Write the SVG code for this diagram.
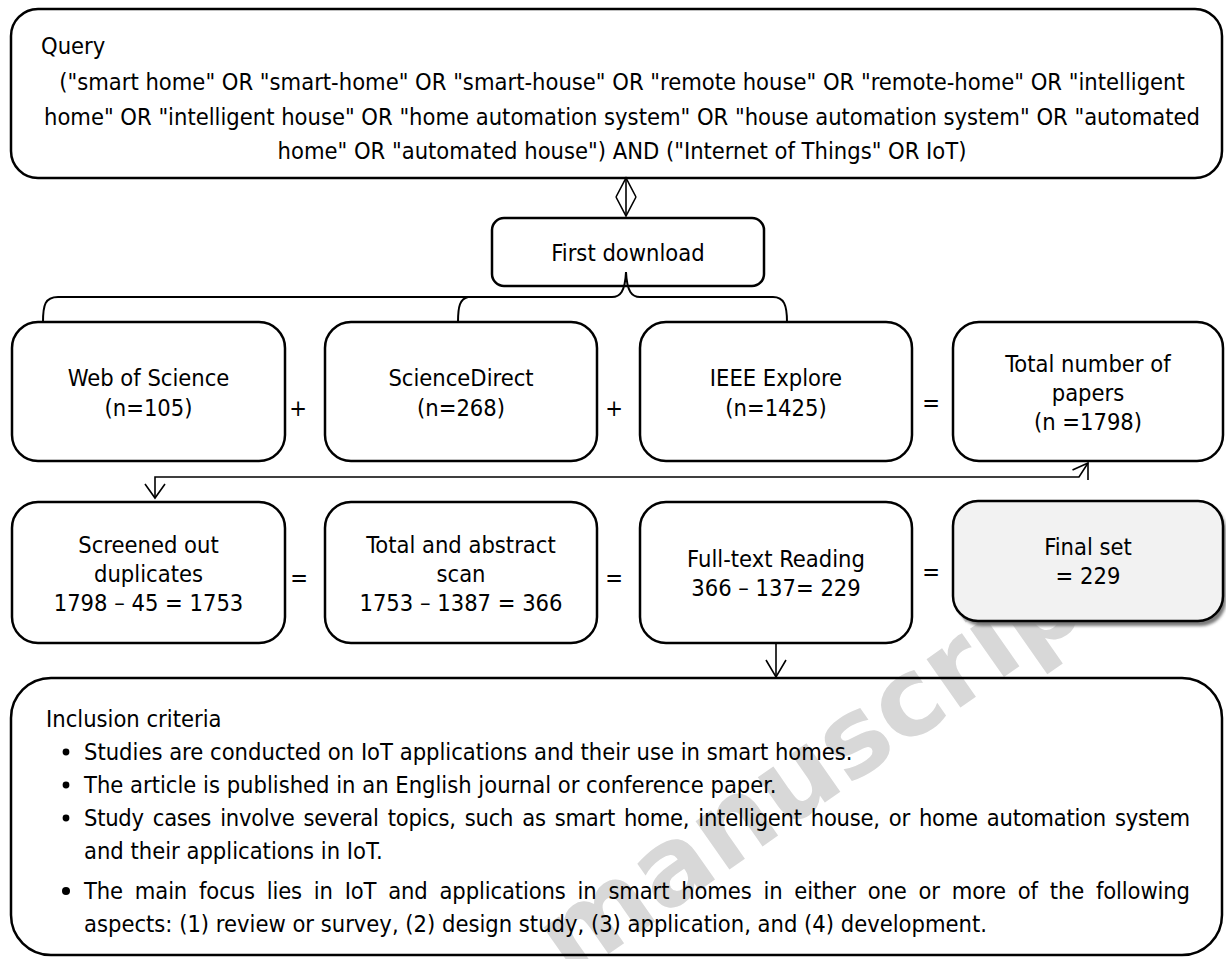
<svg xmlns="http://www.w3.org/2000/svg" width="1226" height="959" viewBox="0 0 1226 959">
  <defs>
    <style>
      .box { fill: #ffffff; stroke: #000000; stroke-width: 2.5; }
      .open { fill: none; stroke: #000000; stroke-width: 2.5; }
      .line { fill: none; stroke: #000000; stroke-width: 1.6; stroke-linejoin: miter; }
      .t { font-family: "DejaVu Sans Condensed", "DejaVu Sans", sans-serif; font-stretch: condensed; font-size: 23.5px; fill: #000000; }
      .c { text-anchor: middle; }
      .wm { font-family: "DejaVu Sans", sans-serif; font-weight: bold; font-size: 108px; fill: #d8d8d8; }
    </style>
    <filter id="shadow" x="-10%" y="-10%" width="130%" height="130%">
      <feGaussianBlur stdDeviation="1.5"/>
    </filter>
  </defs>

  <rect x="0" y="0" width="1226" height="959" fill="#ffffff"/>

  <!-- watermark, behind the boxes -->
  <g id="watermark">
    <text class="wm" transform="translate(570 981) rotate(-35)">manuscript</text>
  </g>

  <!-- inclusion criteria panel (transparent so the watermark shows through) -->
  <g id="inclusion">
    <rect class="open" x="11" y="678" width="1211" height="277" rx="40" ry="40"/>
    <text class="t" x="46" y="727">Inclusion criteria</text>
    <circle cx="66" cy="752" r="3.4"/>
    <text class="t" x="84" y="760">Studies are conducted on IoT applications and their use in smart homes.</text>
    <circle cx="66" cy="785" r="3.4"/>
    <text class="t" x="84" y="793">The article is published in an English journal or conference paper.</text>
    <circle cx="66" cy="818" r="3.4"/>
    <text class="t" x="84" y="826" textLength="1106" style="word-spacing:2.6px">Study cases involve several topics, such as smart home, intelligent house, or home automation system</text>
    <text class="t" x="84" y="859">and their applications in IoT.</text>
    <circle cx="66" cy="891" r="4"/>
    <text class="t" x="84" y="899" textLength="1106" style="word-spacing:5.3px">The main focus lies in IoT and applications in smart homes in either one or more of the following</text>
    <text class="t" x="84" y="932">aspects: (1) review or survey, (2) design study, (3) application, and (4) development.</text>
  </g>

  <g id="query">
    <rect class="box" x="11" y="9" width="1211" height="169" rx="27" ry="27"/>
    <text class="t" x="41" y="54">Query</text>
    <text class="t c" x="622" y="90">("smart home" OR "smart-home" OR "smart-house" OR "remote house" OR "remote-home" OR "intelligent</text>
    <text class="t c" x="622" y="125">home" OR "intelligent house" OR "home automation system" OR "house automation system" OR "automated</text>
    <text class="t c" x="622" y="159">home" OR "automated house") AND ("Internet of Things" OR IoT)</text>
  </g>

  <g id="first-download">
    <rect class="box" x="492" y="218" width="272" height="68" rx="12" ry="12"/>
    <text class="t c" x="628" y="261">First download</text>
  </g>

  <g id="web-of-science">
    <rect class="box" x="12" y="322" width="273" height="139" rx="26" ry="26"/>
    <text class="t c" x="148.5" y="386">Web of Science</text>
    <text class="t c" x="148.5" y="416">(n=105)</text>
  </g>

  <g id="sciencedirect">
    <rect class="box" x="325" y="322" width="272" height="139" rx="26" ry="26"/>
    <text class="t c" x="461" y="386">ScienceDirect</text>
    <text class="t c" x="461" y="416">(n=268)</text>
  </g>

  <g id="ieee-explore">
    <rect class="box" x="640" y="322" width="272" height="139" rx="26" ry="26"/>
    <text class="t c" x="776" y="386">IEEE Explore</text>
    <text class="t c" x="776" y="416">(n=1425)</text>
  </g>

  <g id="total-papers">
    <rect class="box" x="953" y="322" width="270" height="139" rx="26" ry="26"/>
    <text class="t c" x="1088" y="372">Total number of</text>
    <text class="t c" x="1088" y="401">papers</text>
    <text class="t c" x="1088" y="430">(n =1798)</text>
  </g>

  <g id="screened">
    <rect class="box" x="12" y="502" width="273" height="141" rx="26" ry="26"/>
    <text class="t c" x="148.5" y="553">Screened out</text>
    <text class="t c" x="148.5" y="582">duplicates</text>
    <text class="t c" x="148.5" y="611">1798 – 45 = 1753</text>
  </g>

  <g id="abstract-scan">
    <rect class="box" x="325" y="502" width="272" height="141" rx="26" ry="26"/>
    <text class="t c" x="461" y="553">Total and abstract</text>
    <text class="t c" x="461" y="582">scan</text>
    <text class="t c" x="461" y="611">1753 – 1387 = 366</text>
  </g>

  <g id="full-text">
    <rect class="box" x="640" y="502" width="272" height="141" rx="26" ry="26"/>
    <text class="t c" x="776" y="567">Full-text Reading</text>
    <text class="t c" x="776" y="596">366 – 137= 229</text>
  </g>

  <g id="final-set">
    <rect x="957" y="505" width="269" height="121" rx="25" ry="25" fill="#7a7a7a" filter="url(#shadow)"/>
    <rect class="box" x="953" y="501" width="270" height="120" rx="25" ry="25" style="fill:#f2f2f2"/>
    <text class="t c" x="1088" y="555">Final set</text>
    <text class="t c" x="1088" y="584">= 229</text>
  </g>

  <!-- operators between the boxes -->
  <g id="operators">
    <text class="t c" x="298" y="416">+</text>
    <text class="t c" x="614" y="416">+</text>
    <text class="t c" x="931" y="411">=</text>
    <text class="t c" x="299" y="586">=</text>
    <text class="t c" x="614" y="586">=</text>
    <text class="t c" x="931" y="580">=</text>
  </g>

  <g id="connectors">
    <!-- query <-> first download -->
    <path class="line" d="M626,178 V216"/>
    <path class="line" d="M616,197 L626,178 L636,197"/>
    <path class="line" d="M616,197 L626,216 L636,197"/>
    <!-- brace from first download to the three databases -->
    <path class="line" style="stroke-width:2" d="M43,322 C43,305 45,297 58,297 H612 C620,297 625,292 626,272 C627,292 632,297 640,297 H773 C784,297 787,305 787,322"/>
    <path class="line" style="stroke-width:2" d="M458,322 C458,306 460,299 468,297"/>
    <!-- total number of papers -> screened out duplicates -->
    <path class="line" d="M1088,463 L1079,477 H155 V498"/>
    <path class="line" d="M145,484 L155,498 L165,484"/>
    <path class="line" d="M1072.5,470 L1088,463 L1088,480"/>
    <!-- full-text reading -> inclusion criteria -->
    <path class="line" d="M776,643 V677"/>
    <path class="line" d="M766,660 L776,677 L786,660"/>
  </g>
</svg>
